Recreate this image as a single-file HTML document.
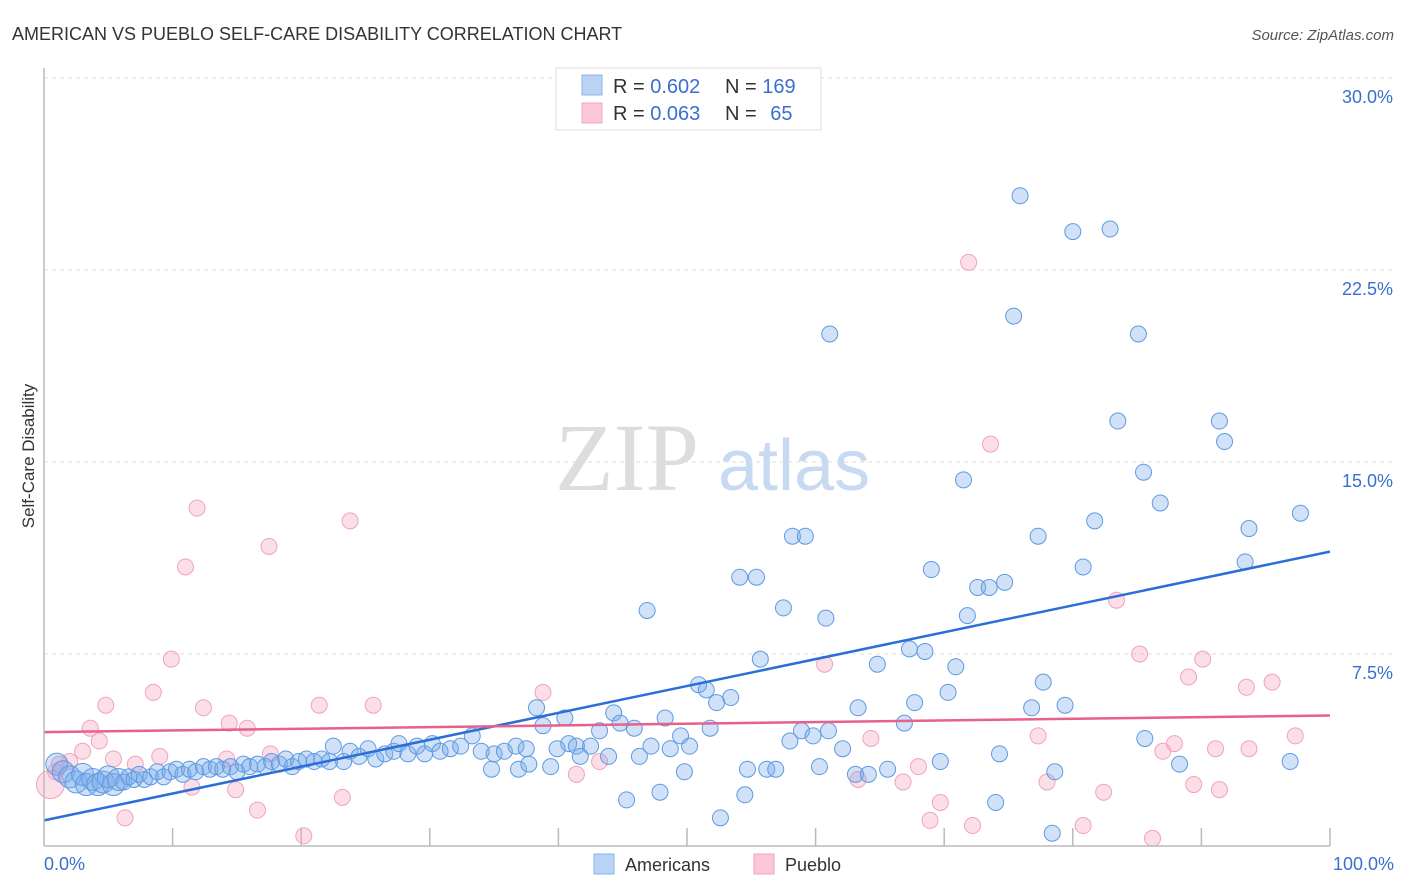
<!DOCTYPE html>
<html><head><meta charset="utf-8">
<style>
body{margin:0;background:#fff;font-family:"Liberation Sans",sans-serif;}
#wrap{position:relative;width:1406px;height:892px;overflow:hidden;}
</style></head>
<body>
<div id="wrap">
<svg id="svg" width="1406" height="892" xmlns="http://www.w3.org/2000/svg">
<text x="12" y="40" font-size="18" fill="#333">AMERICAN VS PUEBLO SELF-CARE DISABILITY CORRELATION CHART</text>
<text x="1394" y="40" font-size="15" fill="#555" font-style="italic" text-anchor="end">Source: ZipAtlas.com</text>
<text x="555" y="490" font-size="96" fill="#ddd" font-family="Liberation Serif,serif">ZIP</text>
<text x="718" y="490" font-size="72" fill="#c8daf2">atlas</text>
<text transform="translate(34,456) rotate(-90)" font-size="17" fill="#333" text-anchor="middle">Self-Care Disability</text>
<g id="grid"></g>
<g id="marks"></g>
<line x1="44" y1="68" x2="44" y2="846" stroke="#bbb" stroke-width="1.5"/>
<line x1="44" y1="846" x2="1330" y2="846" stroke="#bbb" stroke-width="1.5"/>
<text x="44" y="870" font-size="18" fill="#3a6fd0">0.0%</text>
<text x="1394" y="870" font-size="18" fill="#3a6fd0" text-anchor="end">100.0%</text>
<g>
<rect x="556" y="68" width="265" height="62" fill="#fff" stroke="#ddd"/>
<rect x="582" y="75" width="20" height="20" fill="#b9d3f4" stroke="#8ab4ec"/>
<rect x="582" y="103" width="20" height="20" fill="#fbc8d8" stroke="#f2a4bd"/>
<text x="613" y="93" font-size="20" fill="#333">R = <tspan fill="#3a6fd0">0.602</tspan></text>
<text x="725" y="93" font-size="20" fill="#333">N = <tspan fill="#3a6fd0">169</tspan></text>
<text x="613" y="120" font-size="20" fill="#333">R = <tspan fill="#3a6fd0">0.063</tspan></text>
<text x="725" y="120" font-size="20" fill="#333">N = <tspan fill="#3a6fd0" dx="8">65</tspan></text>
</g>
<g>
<rect x="594" y="854" width="20" height="20" fill="#b9d3f4" stroke="#8ab4ec"/>
<text x="625" y="871" font-size="18" fill="#333">Americans</text>
<rect x="754" y="854" width="20" height="20" fill="#fbc8d8" stroke="#f2a4bd"/>
<text x="785" y="871" font-size="18" fill="#333">Pueblo</text>
</g>
</svg>
</div>
<script>
const yTicks=[7.5,15,22.5,30];
const yTickLabels=["7.5%","15.0%","22.5%","30.0%"];
const xTicks=[10,20,30,40,50,60,70,80,90,100];
const americans=[[1,3.2],[1.5,2.9],[2,2.7],[2.5,2.5],[3,2.8],[3.3,2.4],[3.8,2.6],[4.2,2.4],[4.6,2.5],[5,2.7],[5.4,2.4],[5.8,2.6],[6.2,2.5],[6.6,2.7],[7,2.6],[7.4,2.8],[7.8,2.6],[8.3,2.7],[8.8,2.9],[9.3,2.7],[9.8,2.9],[10.3,3.0],[10.8,2.8],[11.3,3.0],[11.8,2.9],[12.4,3.1],[12.9,3.0],[13.4,3.1],[13.9,3.0],[14.5,3.1],[15,2.9],[15.5,3.2],[16,3.1],[16.6,3.2],[17.2,3.1],[17.7,3.3],[18.3,3.2],[18.8,3.4],[19.3,3.1],[19.8,3.3],[20.4,3.4],[21,3.3],[21.6,3.4],[22.2,3.3],[22.5,3.9],[23.3,3.3],[23.8,3.7],[24.5,3.5],[25.2,3.8],[25.8,3.4],[26.5,3.6],[27.2,3.7],[27.6,4.0],[28.3,3.6],[29,3.9],[29.6,3.6],[30.2,4.0],[30.8,3.7],[31.6,3.8],[32.4,3.9],[33.3,4.3],[34,3.7],[35,3.6],[35.8,3.7],[36.7,3.9],[37.5,3.8],[34.8,3.0],[36.9,3.0],[39.4,3.1],[37.7,3.2],
[75.9,25.4],[80.0,24.0],[82.9,24.1],[61.1,20.0],[75.4,20.7],[85.1,20.0],[83.5,16.6],[91.4,16.6],[91.8,15.8],[85.5,14.6],[71.5,14.3],[86.8,13.4],[97.7,13.0],[93.7,12.4],[81.7,12.7],[77.3,12.1],[58.2,12.1],[59.2,12.1],[93.4,11.1],[80.8,10.9],[69.0,10.8],[54.1,10.5],[55.4,10.5],[72.6,10.1],[73.5,10.1],[74.7,10.3],[46.9,9.2],[57.5,9.3],[60.8,8.9],[71.8,9.0],[55.7,7.3],[67.3,7.7],[68.5,7.6],[64.8,7.1],[70.9,7.0],[50.9,6.3],[51.5,6.1],[53.4,5.8],[52.3,5.6],[70.3,6.0],[77.7,6.4],[67.7,5.6],[63.3,5.4],[76.8,5.4],[79.4,5.5],[66.9,4.8],[38.3,5.4],[40.5,5.0],[44.3,5.2],[48.3,5.0],[38.8,4.7],[44.8,4.8],[45.9,4.6],[43.2,4.5],[51.8,4.6],[49.5,4.3],[61.0,4.5],[58.9,4.5],[59.8,4.3],[58.0,4.1],[85.6,4.2],[40.8,4.0],[41.4,3.9],[42.5,3.9],[47.2,3.9],[50.2,3.9],[39.9,3.8],[62.1,3.8],[41.7,3.5],[43.9,3.5],[46.3,3.5],[48.7,3.8],[74.3,3.6],[88.3,3.2],[96.9,3.3],[69.7,3.3],[60.3,3.1],[54.7,3.0],[56.2,3.0],[56.9,3.0],[63.1,2.8],[64.1,2.8],[65.6,3.0],[49.8,2.9],[78.6,2.9],[45.3,1.8],[47.9,2.1],[54.5,2.0],[74.0,1.7],[52.6,1.1],[78.4,0.5]];
const pueblo=[[71.9,22.8],[73.6,15.7],[11.9,13.2],[23.8,12.7],[17.5,11.7],[11.0,10.9],[83.4,9.6],[9.9,7.3],[60.7,7.1],[85.2,7.5],[90.1,7.3],[89.0,6.6],[93.5,6.2],[95.5,6.4],[8.5,6.0],[4.8,5.5],[12.4,5.4],[21.4,5.5],[25.6,5.5],[38.8,6.0],[14.4,4.8],[15.8,4.6],[3.6,4.6],[4.3,4.1],[3.0,3.7],[77.3,4.3],[64.3,4.2],[87.9,4.0],[87.0,3.7],[91.1,3.8],[93.7,3.8],[97.3,4.3],[9.0,3.5],[5.4,3.4],[17.6,3.6],[14.2,3.4],[7.1,3.2],[1.2,3.2],[2.0,3.3],[0.9,2.9],[0.5,2.4],[43.2,3.3],[68.0,3.1],[41.4,2.8],[63.3,2.6],[78.0,2.5],[89.4,2.4],[91.4,2.2],[11.5,2.3],[14.9,2.2],[23.2,1.9],[66.8,2.5],[82.4,2.1],[69.7,1.7],[16.6,1.4],[6.3,1.1],[68.9,1.0],[72.2,0.8],[80.8,0.8],[20.2,0.4],[86.2,0.3]];
const blueTrend=[1.0,11.5];
const pinkTrend=[4.45,5.1];
const NS="http://www.w3.org/2000/svg";
const X=v=>44+v*12.86;
const Y=v=>846-v*25.6;
const grid=document.getElementById('grid'),marks=document.getElementById('marks'),svg=document.getElementById('svg');
function mk(t,a,p){const e=document.createElementNS(NS,t);for(const k in a)e.setAttribute(k,a[k]);p.appendChild(e);return e;}
yTicks.forEach((t,i)=>{
 const l=mk('line',{x1:44,x2:1394,y1:Y(t),y2:Y(t),stroke:'#ddd','stroke-dasharray':'4,4'},grid);
 
 
 const tx=mk('text',{x:1393,y:Y(t)+25,'font-size':18,fill:'#3a6fd0','text-anchor':'end'},grid);
 tx.textContent=yTickLabels[i];
 
 
});
xTicks.forEach(t=>{
 const l=mk('line',{x1:X(t),x2:X(t),y1:828,y2:846,stroke:'#bbb','stroke-width':1.5},grid);
 
 
});
pueblo.forEach((p,i)=>{
 const c=mk('circle',{cx:X(p[0]),cy:Y(p[1]),r:(i==40?14:8),fill:'rgba(245,160,190,0.35)',stroke:'#f0a3bd','stroke-width':1},marks);
 
 
});
americans.forEach((p,i)=>{
 const c=mk('circle',{cx:X(p[0]),cy:Y(p[1]),r:(i<12?11:8),fill:'rgba(120,170,235,0.35)',stroke:'#5d9be2','stroke-width':1},marks);
 
 
});
const bl=mk('line',{x1:X(0),y1:Y(blueTrend[0]),x2:X(100),y2:Y(blueTrend[1]),stroke:'#2a6fd6','stroke-width':2.5},marks);


const pl=mk('line',{x1:X(0),y1:Y(pinkTrend[0]),x2:X(100),y2:Y(pinkTrend[1]),stroke:'#e8608c','stroke-width':2.5},marks);


</script>
</body></html>
